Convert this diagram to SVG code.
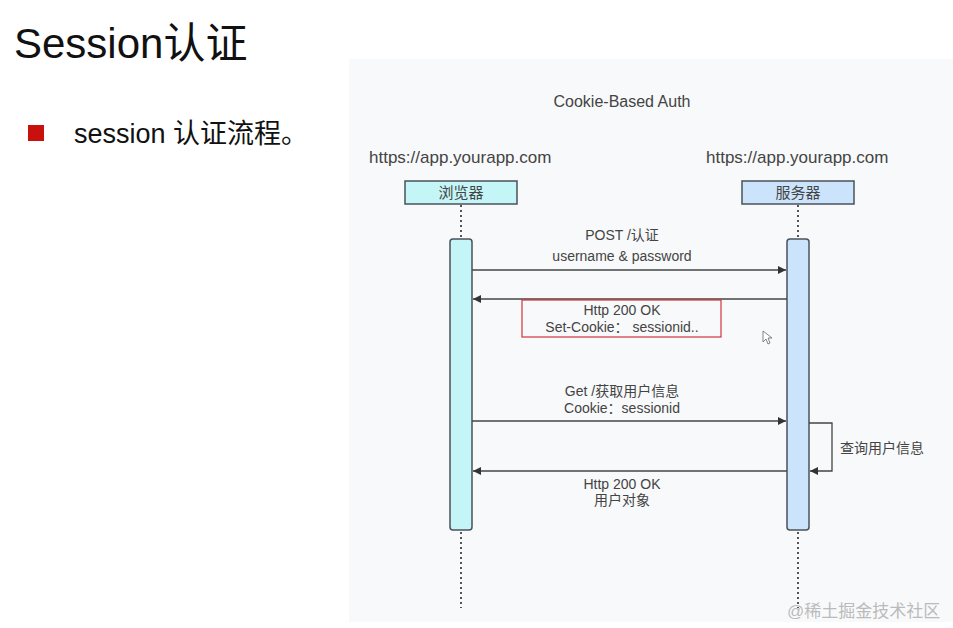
<svg xmlns="http://www.w3.org/2000/svg" width="953" height="628" viewBox="0 0 953 628">
<style>
.t{font-family:"Liberation Sans","Noto Sans CJK SC",sans-serif;fill:#333}
.lbl{font-size:14px;text-anchor:middle;fill:#444}
.url{font-size:17px;fill:#444}
.box{stroke:#4a5258;stroke-width:1.5}
.life{stroke:#555;stroke-width:2;stroke-dasharray:2 3}
.msg{stroke:#444;stroke-width:1.3;fill:none}
</style>
<defs>
<marker id="ah" viewBox="0 0 10 10" refX="10" refY="5" markerWidth="12" markerHeight="8" markerUnits="userSpaceOnUse" orient="auto">
<path d="M0,0 L10,5 L0,10 z" fill="#333"/>
</marker>
</defs>
<rect width="953" height="628" fill="#ffffff"/>
<text class="t" x="14" y="58" font-size="42" style="fill:#111">Session认证</text>
<rect x="28" y="125" width="16" height="16" fill="#c8100c"/>
<text class="t" x="74" y="143" font-size="27" style="fill:#111">session 认证流程。</text>
<rect x="349" y="59" width="604" height="563" fill="#f8f9fa"/>
<text class="t lbl" x="622" y="107" style="font-size:16px">Cookie-Based Auth</text>
<text class="t url" x="369" y="163">https://app.yourapp.com</text>
<text class="t url" x="706" y="163">https://app.yourapp.com</text>
<g id="lifelines">
<line class="life" x1="461" y1="205" x2="461" y2="238"/>
<line class="life" x1="798" y1="205" x2="798" y2="238"/>
<line class="life" x1="461" y1="532" x2="461" y2="608"/>
<line class="life" x1="798" y1="532" x2="798" y2="608"/>
</g>
<g id="browser">
<rect class="box" x="405" y="181" width="112" height="23" fill="#c4f5f7"/>
<text class="t" x="461" y="198" font-size="15" text-anchor="middle" style="fill:#444">浏览器</text>
<rect class="box" x="450" y="239" width="22" height="291" rx="3" fill="#c4f5f7"/>
</g>
<g id="server">
<rect class="box" x="742" y="181" width="112" height="23" fill="#cce4fb"/>
<text class="t" x="798" y="198" font-size="15" text-anchor="middle" style="fill:#444">服务器</text>
<rect class="box" x="787" y="239" width="22" height="291" rx="3" fill="#cce4fb"/>
</g>
<g id="connectors">
<line class="msg" x1="472" y1="270" x2="786" y2="270" marker-end="url(#ah)"/>
<line class="msg" x1="787" y1="299" x2="473" y2="299" marker-end="url(#ah)"/>
<line class="msg" x1="472" y1="421" x2="786" y2="421" marker-end="url(#ah)"/>
<polyline class="msg" points="809,423 832,423 832,471 810,471" marker-end="url(#ah)"/>
<line class="msg" x1="787" y1="471" x2="473" y2="471" marker-end="url(#ah)"/>
</g>
<g id="labels">
<text class="t lbl" x="622" y="240">POST /认证</text>
<text class="t lbl" x="622" y="261">username &amp; password</text>
<rect x="522" y="300" width="199" height="37" fill="none" stroke="#d0323a" stroke-width="1.2"/>
<text class="t lbl" x="622" y="315">Http 200 OK</text>
<text class="t lbl" x="622" y="332">Set-Cookie：  sessionid..</text>
<text class="t lbl" x="622" y="396">Get /获取用户信息</text>
<text class="t lbl" x="622" y="413">Cookie：sessionid</text>
<text class="t lbl" x="840" y="453" style="text-anchor:start">查询用户信息</text>
<text class="t lbl" x="622" y="489">Http 200 OK</text>
<text class="t lbl" x="622" y="505">用户对象</text>
</g>
<path d="M763,331 L763,342 L766,339 L768,344 L770,343 L768,338 L772,338 Z" fill="#fff" stroke="#666" stroke-width="0.8"/>
<text class="t" x="787" y="617" font-size="17" style="fill:#bbb">@稀土掘金技术社区</text>
</svg>
